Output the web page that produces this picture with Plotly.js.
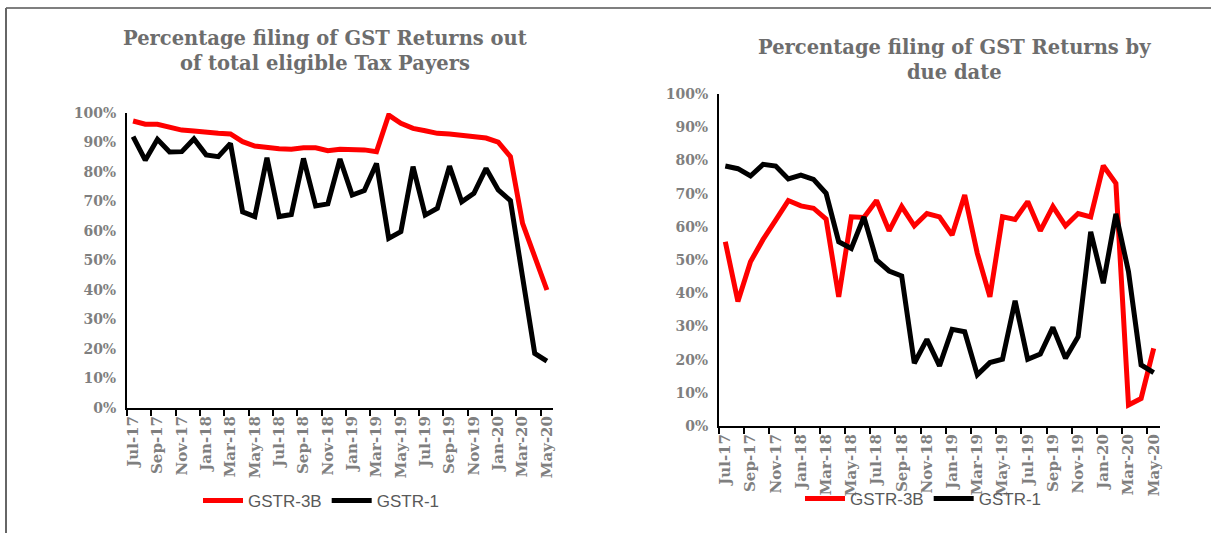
<!DOCTYPE html>
<html>
<head>
<meta charset="utf-8">
<script src="https://cdn.plot.ly/plotly-3.0.1.min.js"></script>
<style>html,body{margin:0;padding:0;background:#fff;}#chart{width:1211px;height:533px;}</style>
</head>
<body>
<div id="chart"></div>
<script>
const months = ['Jul-17','Aug-17','Sep-17','Oct-17','Nov-17','Dec-17','Jan-18','Feb-18','Mar-18','Apr-18','May-18','Jun-18',
  'Jul-18','Aug-18','Sep-18','Oct-18','Nov-18','Dec-18','Jan-19','Feb-19','Mar-19','Apr-19','May-19','Jun-19',
  'Jul-19','Aug-19','Sep-19','Oct-19','Nov-19','Dec-19','Jan-20','Feb-20','Mar-20','Apr-20','May-20'];

// Chart 1: out of total eligible tax payers (%)
const total3B = [97.3,96.2,96.2,95.4,94.2,93.9,93.4,93.1,92.9,90.3,88.8,88.2,87.9,87.7,88.2,88.2,87.2,87.7,87.7,87.5,86.9,
  99.3,96.5,94.8,94.0,93.1,92.9,92.3,91.8,91.5,90.1,85.2,62.6,51.3,40.0];
const total1 = [92.0,84.0,91.1,86.8,86.9,91.2,85.8,85.2,89.7,66.5,64.9,84.8,64.9,65.6,84.6,68.5,69.2,84.4,72.2,73.7,82.9,
  57.5,59.8,81.8,65.4,67.7,82.0,69.9,72.8,81.2,73.9,70.3,44.4,18.5,15.9];

// Chart 2: by due date (%)
const due3B = [55.5,37.5,49.5,56.2,62.0,67.9,66.3,65.6,62.3,38.9,63.0,62.8,67.9,58.8,66.1,60.3,64.0,63.0,57.5,69.6,52.0,
  38.9,63.0,62.2,67.6,58.8,66.1,60.3,64.0,63.0,78.4,73.1,6.3,8.3,23.4];
const due1 = [78.3,77.5,75.3,78.8,78.3,74.4,75.6,74.3,70.1,55.5,53.5,63.0,50.0,46.7,45.2,18.9,26.1,18.1,29.1,28.4,15.4,
  19.1,20.1,37.7,20.1,21.7,29.7,20.4,26.9,58.5,43.0,63.9,46.5,18.4,16.1];

const seriesNames = ['GSTR-3B','GSTR-1'];
const titles = ['Percentage filing of GST Returns out<br>of total eligible Tax Payers',
                'Percentage filing of GST Returns by<br>due date'];

const pct = a => a.map(v => v / 100);
const W = 1211, H = 533;
const px = x => x / W, py = y => (H - y) / H;

const serif = 'DejaVu Serif';
const yTickFont = {family: serif, size: 14, color: '#7f7f7f', weight: 'bold'};
const xTickFont = {family: serif, size: 15, color: '#7f7f7f', weight: 'bold'};

function mk(y, name, color, xa, ya, legend) {
  return {x: months, y: pct(y), name: name, type: 'scatter', mode: 'lines',
    line: {color: color, width: 5, shape: 'linear'}, xaxis: xa, yaxis: ya, legend: legend,
    hoverinfo: 'x+y+name'};
}

const data = [
  mk(total3B, seriesNames[0], '#ff0000', 'x', 'y', 'legend'),
  mk(total1, seriesNames[1], '#000000', 'x', 'y', 'legend'),
  mk(due3B, seriesNames[0], '#ff0000', 'x2', 'y2', 'legend2'),
  mk(due1, seriesNames[1], '#000000', 'x2', 'y2', 'legend2')
];

function xax(domain, anchor) {
  return {domain: domain, anchor: anchor, type: 'category', categoryorder: 'array', categoryarray: months,
    range: [-0.5, months.length - 0.5], tickmode: 'linear', tick0: 0, dtick: 2, tickson: 'boundaries',
    ticks: 'outside', ticklen: 6, tickwidth: 2, tickcolor: '#000', tickangle: -90,
    showline: true, linecolor: '#000', linewidth: 2, showgrid: false, zeroline: false,
    tickfont: xTickFont, fixedrange: true};
}
function yax(domain, anchor) {
  return {domain: domain, anchor: anchor, range: [0, 1], tickmode: 'linear', tick0: 0, dtick: 0.1,
    tickformat: '.0%', showline: true, linecolor: '#000', linewidth: 2, showgrid: false, zeroline: false,
    ticks: '', ticklabelstandoff: 6, tickfont: yTickFont, fixedrange: true};
}

const legendFont = {family: 'Liberation Sans', size: 17, color: '#595959'};

const layout = {
  width: W, height: H,
  margin: {l: 0, r: 0, t: 0, b: 0},
  paper_bgcolor: '#fff', plot_bgcolor: '#fff',
  xaxis: xax([px(127), px(553)], 'y'),
  yaxis: yax([py(408), py(113)], 'x'),
  xaxis2: xax([px(719), px(1160)], 'y2'),
  yaxis2: yax([py(426), py(94)], 'x2'),
  showlegend: true,
  legend: {orientation: 'h', x: px(198), xanchor: 'left', y: py(501), yanchor: 'middle',
    font: legendFont, bgcolor: 'rgba(0,0,0,0)', itemwidth: 40, tracegroupgap: 0},
  legend2: {orientation: 'h', x: px(800), xanchor: 'left', y: py(499), yanchor: 'middle',
    font: legendFont, bgcolor: 'rgba(0,0,0,0)', itemwidth: 40, tracegroupgap: 0},
  annotations: [
    {text: titles[0], xref: 'paper', yref: 'paper', x: px(325), y: py(51), xanchor: 'center', yanchor: 'middle',
      showarrow: false, align: 'center', font: {family: serif, size: 19.5, color: '#6d6d6d', weight: 'bold'}},
    {text: titles[1], xref: 'paper', yref: 'paper', x: px(954), y: py(60), xanchor: 'center', yanchor: 'middle',
      showarrow: false, align: 'center', font: {family: serif, size: 19.5, color: '#6d6d6d', weight: 'bold'}}
  ],
  shapes: [
    {type: 'line', xref: 'paper', yref: 'paper', x0: px(6), x1: 1, y0: py(8), y1: py(8), line: {color: '#555', width: 1.5}},
    {type: 'line', xref: 'paper', yref: 'paper', x0: px(6), x1: px(6), y0: py(8), y1: 0, line: {color: '#666', width: 2}}
  ]
};

Plotly.newPlot('chart', data, layout, {displayModeBar: false, staticPlot: true});
</script>
</body>
</html>
